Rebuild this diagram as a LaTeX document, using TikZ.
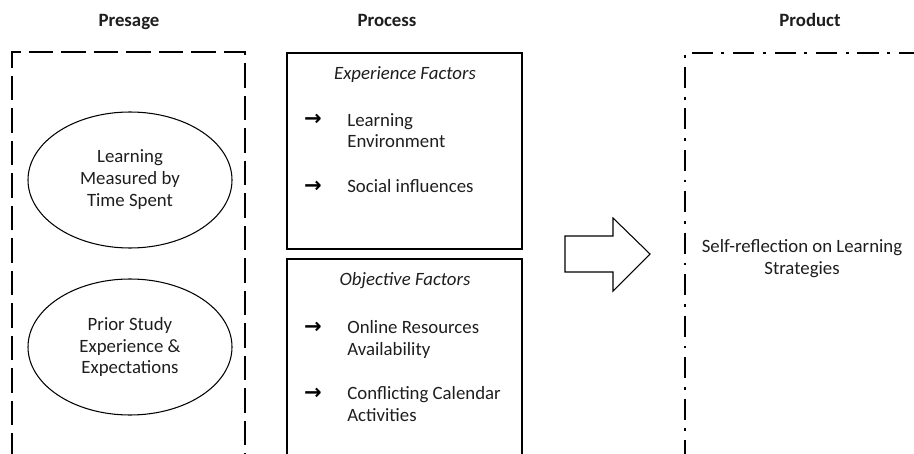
\documentclass[tikz,border=0pt]{standalone}
\usepackage{fontspec}
\setmainfont{Carlito}
\newfontfamily\arrowfont{DejaVu Sans}
\usetikzlibrary{positioning,shapes.geometric}
\definecolor{ppline}{HTML}{000000}
\definecolor{pptext}{HTML}{1E1E1E}
\newcommand\ppsize{\fontsize{10.7pt}{12.5pt}\selectfont}
\tikzset{
  header/.style={font=\ppsize\bfseries,text=pptext,inner sep=0pt,anchor=base},
  presagebox/.style={draw=ppline,line width=1.7pt,dash pattern=on 14pt off 4.5pt},
  productbox/.style={draw=ppline,line width=1.3pt,dash pattern=on 12pt off 5pt on 1.6pt off 5pt},
  factor/.style={ellipse,draw=ppline,line width=0.6pt,minimum width=4.08cm,minimum height=2.72cm,align=center,inner sep=0pt,text=pptext},
  groupbox/.style={draw=ppline,line width=1.6pt,minimum width=4.7cm},
  caption/.style={font=\ppsize\itshape,text=pptext,inner sep=0pt,anchor=base},
  itemtext/.style={align=left,inner sep=0pt,text=pptext,anchor=base west},
  outcome/.style={font=\ppsize,align=center,text=pptext,inner sep=0pt,anchor=base},
  bullet/.style={font=\fontsize{12pt}{12pt}\arrowfont\bfseries,inner sep=0pt,anchor=base},
  bigarrow/.style={draw=ppline,line width=0.6pt,fill=white},
}

\begin{document}
\begin{tikzpicture}[font=\ppsize]
  \useasboundingbox (0,0) rectangle (18.28,9.06);
  % column titles
  \node[header] (presage) at (2.58,8.52) {Presage};
  \node[header] (process) at (7.74,8.52) {Process};
  \node[header] (product) at (16.2,8.52) {Product};
  % presage column
  \draw[presagebox] (0.24,-0.1) -- (0.24,8.02) -- (4.9,8.02) -- (4.9,-0.1);
  \node[factor] (timespent) at (2.6,5.46) {Learning\\Measured by\\Time Spent};
  \node[factor] (priorstudy) at (2.6,2.12) {Prior Study\\Experience \&\\Expectations};
  % process column (multi-line items sit on their last baseline)
  \node[groupbox,minimum height=3.92cm] (expbox) at (8.09,6.04) {};
  \node[groupbox,minimum height=4.2cm] (objbox) at (8.09,1.78) {};
  \node[caption] (expcap) at (8.1,7.46) {Experience Factors};
  \node[bullet] (b1) at (6.26,6.54) {→};
  \node[itemtext] (env) at (6.94,6.1) {Learning\\Environment};
  \node[bullet] (b2) at (6.26,5.22) {→};
  \node[itemtext] (social) at (6.94,5.22) {Social influences};
  \node[caption] (objcap) at (8.1,3.36) {Objective Factors};
  \node[bullet] (b3) at (6.26,2.4) {→};
  \node[itemtext] (online) at (6.94,1.96) {Online Resources\\Availability};
  \node[bullet] (b4) at (6.26,1.08) {→};
  \node[itemtext] (calendar) at (6.94,0.64) {Conflicting Calendar\\Activities};
  % block arrow into product
  \draw[bigarrow] (11.3,4.34) -- (12.26,4.34) -- (12.26,4.7) -- (13.0,3.98)
    -- (12.26,3.24) -- (12.26,3.62) -- (11.3,3.62) -- cycle;
  % product column
  \draw[productbox] (18.4,8.0) -- (13.7,8.0) -- (13.7,-0.1);
  \node[outcome] (reflect) at (16.04,3.58) {Self-reflection on Learning\\Strategies};
\end{tikzpicture}
\end{document}
